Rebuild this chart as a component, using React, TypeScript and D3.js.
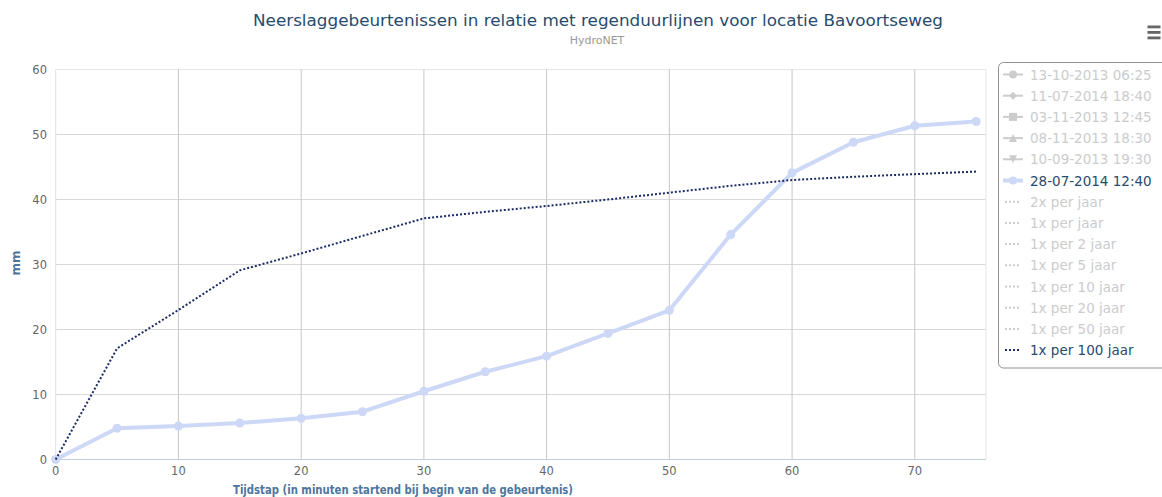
import React from "react";
import * as d3 from "d3";

const xSteps = [0, 5, 10, 15, 20, 25, 30, 35, 40, 45, 50, 55, 60, 65, 70, 75];
const eventValues = [0, 4.8, 5.15, 5.6, 6.35, 7.35, 10.5, 13.5, 15.9, 19.4, 22.95, 34.6, 44.1, 48.8, 51.35, 52.0];
const returnPeriod100 = [0, 17.1, 23.0, 29.1, 31.7, 34.4, 37.1, 38.1, 39.0, 40.0, 41.05, 42.1, 43.0, 43.5, 43.9, 44.3];

const xTicks = [0, 10, 20, 30, 40, 50, 60, 70];
const yTicks = [0, 10, 20, 30, 40, 50, 60];

const legendItems = [
  { label: "13-10-2013 06:25", kind: "marker", symbol: "circle", active: false },
  { label: "11-07-2014 18:40", kind: "marker", symbol: "diamond", active: false },
  { label: "03-11-2013 12:45", kind: "marker", symbol: "square", active: false },
  { label: "08-11-2013 18:30", kind: "marker", symbol: "triangle", active: false },
  { label: "10-09-2013 19:30", kind: "marker", symbol: "triangle-down", active: false },
  { label: "28-07-2014 12:40", kind: "marker", symbol: "circle", active: true },
  { label: "2x per jaar", kind: "dot", active: false },
  { label: "1x per jaar", kind: "dot", active: false },
  { label: "1x per 2 jaar", kind: "dot", active: false },
  { label: "1x per 5 jaar", kind: "dot", active: false },
  { label: "1x per 10 jaar", kind: "dot", active: false },
  { label: "1x per 20 jaar", kind: "dot", active: false },
  { label: "1x per 50 jaar", kind: "dot", active: false },
  { label: "1x per 100 jaar", kind: "dot", active: true },
];

const FONT = "'DejaVu Sans', Verdana, sans-serif";
const LIGHT = "#cdd8f6";
const NAVY = "#1c2b66";

function symbolPath(sym: string, cx: number, cy: number): string {
  const r = 4;
  switch (sym) {
    case "diamond":
      return `M${cx},${cy - r}L${cx + r},${cy}L${cx},${cy + r}L${cx - r},${cy}Z`;
    case "square":
      return `M${cx - r},${cy - r}H${cx + r}V${cy + r}H${cx - r}Z`;
    case "triangle":
      return `M${cx},${cy - r}L${cx + r},${cy + r}L${cx - r},${cy + r}Z`;
    case "triangle-down":
      return `M${cx - r},${cy - r}L${cx + r},${cy - r}L${cx},${cy + r}Z`;
    default:
      return "";
  }
}

export default function App() {
  const W = 1162;
  const H = 497;
  const x = d3.scaleLinear().domain([0, 75.8]).range([55.7, 986]);
  const y = d3.scaleLinear().domain([0, 60]).range([459.5, 69.5]);

  const eventData = xSteps.map((t, i) => [t, eventValues[i]] as [number, number]);
  const rpData = xSteps.map((t, i) => [t, returnPeriod100[i]] as [number, number]);
  const line = d3
    .line<[number, number]>()
    .x((d) => x(d[0]))
    .y((d) => y(d[1]));

  const legendX = 998.5;
  const legendY0 = 74.5;
  const legendStep = 21.2;

  return (
    <svg width={W} height={H} style={{ position: "absolute", left: 0, top: 0, background: "#fff" }} fontFamily={FONT}>
      <rect x={0} y={0} width={W} height={H} fill="#fff" />
      {/* title */}
      <text x={598} y={26} textAnchor="middle" fontSize={16.5} fill="#274b6d" textLength={690} lengthAdjust="spacingAndGlyphs">
        Neerslaggebeurtenissen in relatie met regenduurlijnen voor locatie Bavoortseweg
      </text>
      <text x={597} y={44} textAnchor="middle" fontSize={11} fill="#999">
        HydroNET
      </text>

      {/* menu icon */}
      {[0, 1, 2].map((i) => (
        <rect key={i} x={1147.5} y={25.5 + i * 5.5} width={13} height={2.8} fill="#666" />
      ))}

      {/* horizontal gridlines */}
      {yTicks.map((t) => (
        <line key={"h" + t} x1={55.7} x2={986} y1={y(t)} y2={y(t)} stroke={t === 60 ? "#e6e6e6" : "#d8d8d8"} strokeWidth={1} />
      ))}
      {/* vertical gridlines */}
      {xTicks.map((t) => (
        <line key={"v" + t} x1={x(t)} x2={x(t)} y1={69.5} y2={459.5} stroke={t === 0 ? "#e0e0e0" : "#c6c6c6"} strokeWidth={1} />
      ))}
      <line x1={986} x2={986} y1={69.5} y2={459.5} stroke="#e6e6e6" />
      {/* x axis line */}
      <line x1={55.7} x2={986} y1={459.5} y2={459.5} stroke="#c0d0e0" strokeWidth={1} />

      {/* y tick labels */}
      {yTicks.map((t) => (
        <text key={"yl" + t} x={47} y={y(t) + 4} textAnchor="end" fontSize={11.5} fill="#666">
          {t}
        </text>
      ))}
      {/* x tick labels */}
      {xTicks.map((t) => (
        <text key={"xl" + t} x={x(t)} y={475} textAnchor="middle" fontSize={11.5} fill="#666">
          {t}
        </text>
      ))}

      {/* axis titles */}
      <text x={403} y={494} textAnchor="middle" fontSize={12} fontWeight="bold" fill="#4d759e" textLength={340} lengthAdjust="spacingAndGlyphs">
        Tijdstap (in minuten startend bij begin van de gebeurtenis)
      </text>
      <text transform={`translate(20,263) rotate(-90)`} textAnchor="middle" fontSize={12} fontWeight="bold" fill="#4d759e">
        mm
      </text>

      {/* series */}
      <path d={line(eventData) || ""} fill="none" stroke={LIGHT} strokeWidth={4} strokeLinejoin="round" strokeLinecap="round" />
      {eventData.map((d, i) => (
        <circle key={"m" + i} cx={x(d[0])} cy={y(d[1])} r={4.5} fill={LIGHT} />
      ))}
      <path d={line(rpData) || ""} fill="none" stroke={NAVY} strokeWidth={2} strokeDasharray="2,2" />

      {/* legend */}
      <rect x={legendX} y={62.5} width={200} height={305.5} rx={5} ry={5} fill="#fff" stroke="#909090" strokeWidth={1} />
      {legendItems.map((it, i) => {
        const cy = legendY0 + i * legendStep;
        const col = it.active ? (it.kind === "dot" ? NAVY : LIGHT) : "#cccccc";
        const textCol = it.active ? "#274b6d" : "#cccccc";
        return (
          <g key={"lg" + i}>
            {it.kind === "marker" ? (
              <>
                <line x1={1003} x2={1023} y1={cy} y2={cy} stroke={col} strokeWidth={it.active ? 4 : 2} />
                {it.symbol === "circle" ? (
                  <circle cx={1013} cy={cy} r={4} fill={col} />
                ) : (
                  <path d={symbolPath(it.symbol as string, 1013, cy)} fill={col} />
                )}
              </>
            ) : (
              <line x1={1005} x2={1021} y1={cy} y2={cy} stroke={col} strokeWidth={2} strokeDasharray="2,2" />
            )}
            <text x={1030} y={cy + 5} fontSize={13.5} fill={textCol}>
              {it.label}
            </text>
          </g>
        );
      })}
    </svg>
  );
}
